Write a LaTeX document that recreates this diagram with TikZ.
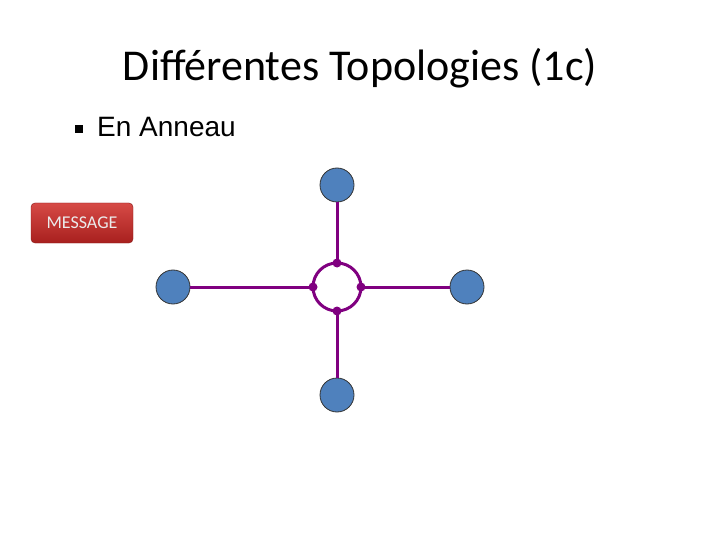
\documentclass[tikz,border=0pt]{standalone}
\usepackage{fontspec}
\setmainfont{Carlito}
\newfontfamily\arialfont{Liberation Sans}
\definecolor{ringpurple}{RGB}{128,0,128}
\definecolor{nodeblue}{RGB}{79,129,189}
\definecolor{msgtop}{RGB}{214,74,70}
\definecolor{msgbot}{RGB}{168,32,30}
\tikzset{
  host/.style={circle, draw=black!80, line width=0.8pt, fill=nodeblue, minimum size=34pt, inner sep=0pt},
  link/.style={draw=ringpurple, line width=3pt},
  tap/.style={circle, fill=ringpurple, minimum size=9pt, inner sep=0pt},
}
\begin{document}
\begin{tikzpicture}[x=1pt,y=-1pt]
\useasboundingbox (0,0) rectangle (720,540);
\node[font=\fontsize{44}{50}\selectfont] (title) at (360,68) {Différentes Topologies (1c)};
\node[anchor=west, font=\arialfont\fontsize{28}{32}\selectfont, inner sep=0pt] (bullet) at (75,127) {\raisebox{0.14em}{\rule{8pt}{8pt}}\hspace{14pt}En Anneau};
\node[rounded corners=4pt, top color=msgtop, bottom color=msgbot, draw=msgbot!80!black, line width=0.4pt, minimum width=102pt, minimum height=40pt, text=white!92!black, font=\fontsize{18}{20}\selectfont] (msg) at (82,223) {MESSAGE};
\coordinate (c) at (337,287);
\draw[link] (c) circle (24);
\node[tap] (rt) at (337,263) {};
\node[tap] (rb) at (337,311) {};
\node[tap] (rl) at (313,287) {};
\node[tap] (rr) at (361,287) {};
\node[host] (top) at (337,185) {};
\node[host] (bot) at (337,395) {};
\node[host] (left) at (173,287) {};
\node[host] (right) at (467,287) {};
\draw[link] (top) -- (rt.center);
\draw[link] (bot) -- (rb.center);
\draw[link] (left) -- (rl.center);
\draw[link] (right) -- (rr.center);
\end{tikzpicture}
\end{document}
